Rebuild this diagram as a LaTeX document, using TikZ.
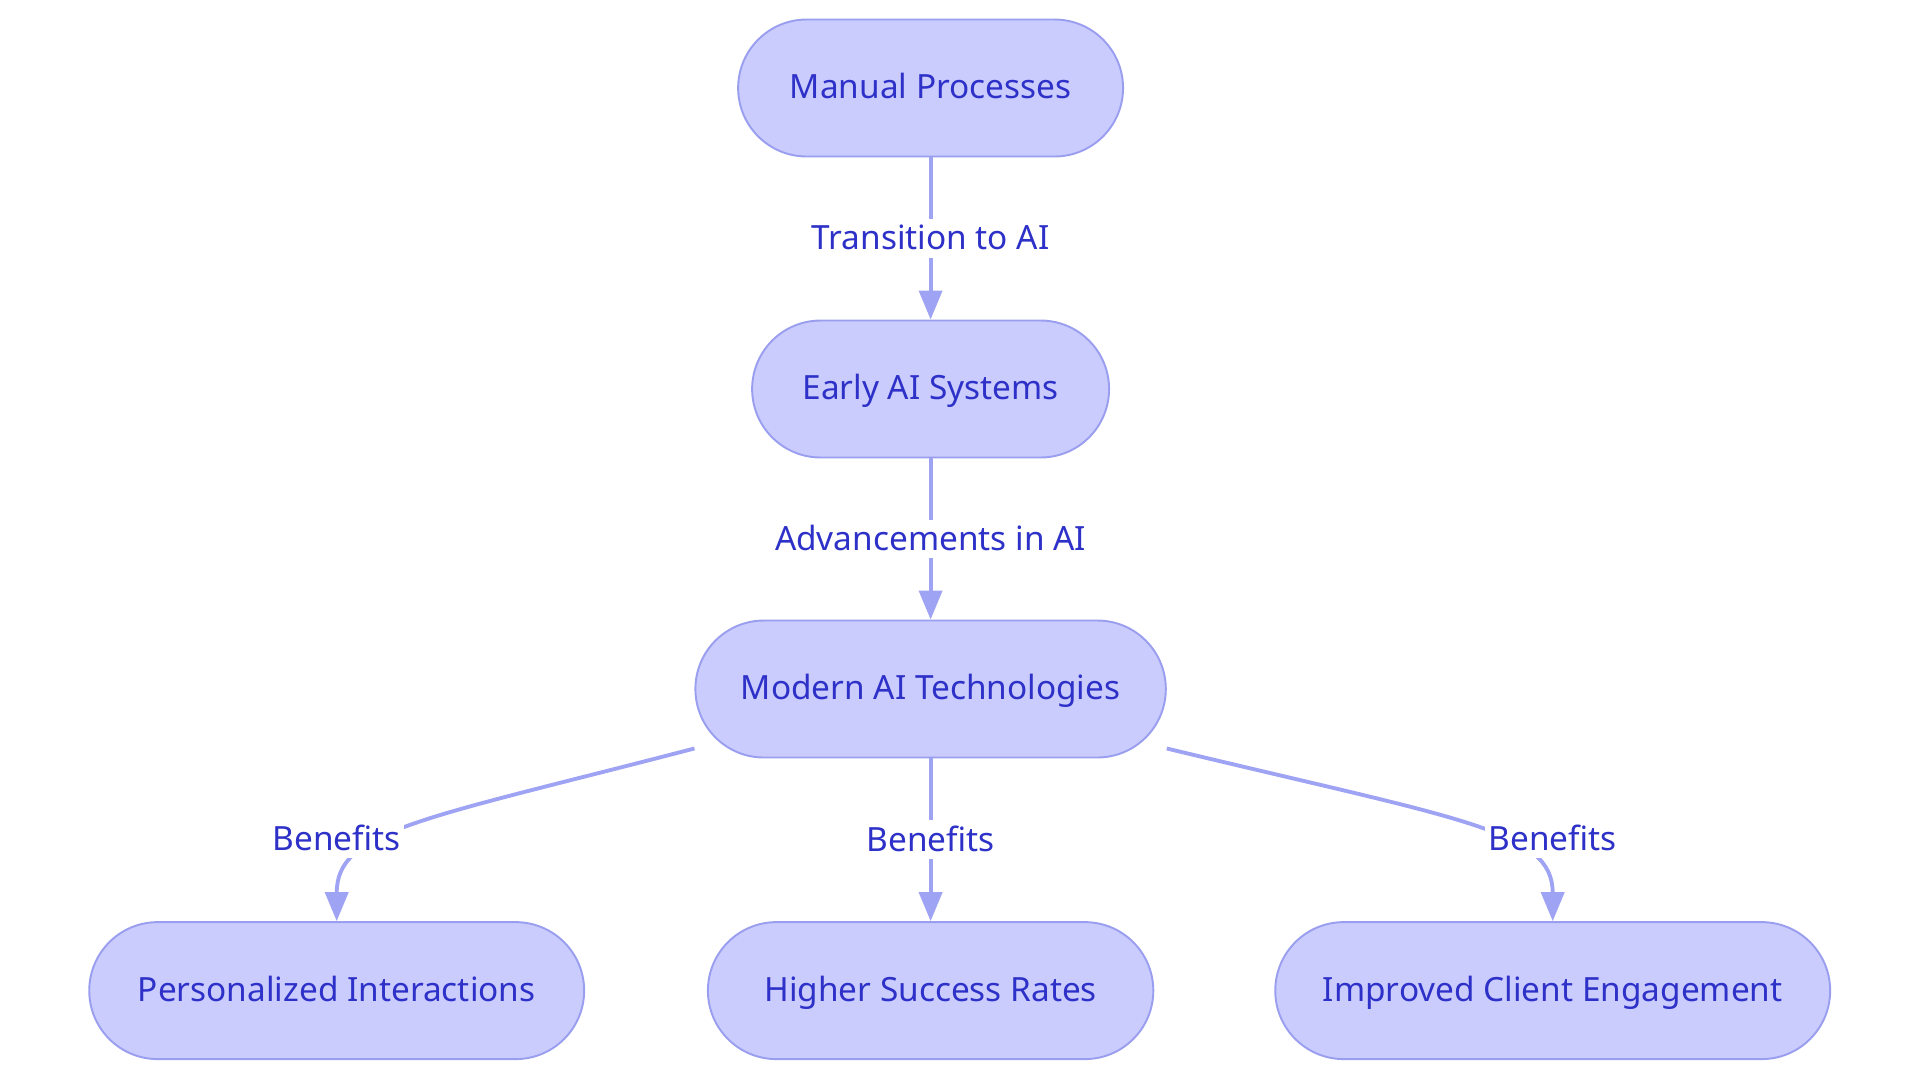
\documentclass[tikz,border=0pt]{standalone}
\usepackage{fontspec}
\setmainfont{Noto Sans}
\usetikzlibrary{arrows.meta}
\definecolor{stagefill}{HTML}{CBCCFE}
\definecolor{stageline}{HTML}{9A9EEF}
\definecolor{flowline}{HTML}{9FA3F3}
\definecolor{inkblue}{HTML}{2E31C8}
\tikzset{
  stage/.style={draw=stageline, fill=stagefill, line width=1.1pt, rounded corners=1.37cm,
    minimum height=2.74cm, text=inkblue, text height=15pt, text depth=3pt,
    font=\fontsize{19}{23}\selectfont},
  flow/.style={draw=flowline, line width=2.2pt, -{Triangle[length=0.58cm, width=0.46cm]}},
  lbl/.style={fill=white, text=inkblue, inner sep=2pt, text height=15.5pt, text depth=2.5pt,
    font=\fontsize{19}{23}\selectfont}
}
\begin{document}
\begin{tikzpicture}[x=0.02cm, y=-0.02cm]
    \useasboundingbox (0,0) rectangle (1920,1083);

    % Stages
    \node[stage, minimum width=7.7cm] (manual) at (930.6,88) {Manual Processes};
    \node[stage, minimum width=7.14cm] (early) at (930.6,389) {Early AI Systems};
    \node[stage, minimum width=9.41cm] (modern) at (930.6,689) {Modern AI Technologies};

    % Benefits
    \node[stage, minimum width=9.9cm] (pers) at (336.7,990.6) {Personalized Interactions};
    \node[stage, minimum width=8.91cm] (higher) at (930.6,990.6) {Higher Success Rates};
    \node[stage, minimum width=11.1cm] (client) at (1552.7,990.6) {Improved Client Engagement};

    % Edges
    \draw[flow] (manual) -- (early) node[lbl, midway] (trans) {Transition to AI};
    \draw[flow] (early) -- (modern) node[lbl, midway] (adv) {Advancements in AI};
    \draw[flow] (modern) -- (higher) node[lbl, midway] (ben2) {Benefits};
    \draw[flow] ([yshift=0.2cm]modern.south west) .. controls (420,820) and (336.7,830) .. (pers.north);
    \draw[flow] ([yshift=0.2cm]modern.south east) .. controls (1463,820) and (1552.7,830) .. (client.north);

    % Labels on the curved edges
    \node[lbl] (ben1) at (336.7,838.8) {Benefits};
    \node[lbl] (ben3) at (1552.7,838.8) {Benefits};
\end{tikzpicture}
\end{document}
